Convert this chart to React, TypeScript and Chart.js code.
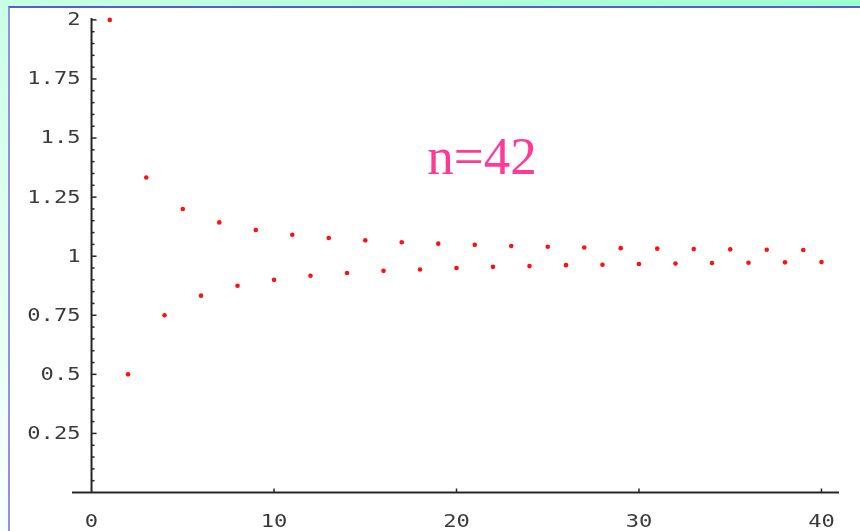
import React, { useEffect, useRef } from "react";
import { Chart, registerables } from "chart.js";

Chart.register(...registerables);

// ---- data ----
const xValues = [
  1, 2, 3, 4, 5, 6, 7, 8, 9, 10, 11, 12, 13, 14, 15, 16, 17, 18, 19, 20,
  21, 22, 23, 24, 25, 26, 27, 28, 29, 30, 31, 32, 33, 34, 35, 36, 37, 38, 39, 40,
];
const yValues = [
  2.0, 0.5, 1.333, 0.75, 1.2, 0.833, 1.143, 0.875, 1.111, 0.9,
  1.091, 0.917, 1.077, 0.929, 1.067, 0.938, 1.059, 0.944, 1.053, 0.95,
  1.048, 0.955, 1.043, 0.958, 1.04, 0.962, 1.037, 0.964, 1.034, 0.967,
  1.032, 0.969, 1.03, 0.971, 1.029, 0.972, 1.027, 0.974, 1.026, 0.975,
];
const xTickLabels = ["0", "10", "20", "30", "40"];
const yTickLabels = ["0.25", "0.5", "0.75", "1", "1.25", "1.5", "1.75", "2"];
const yMinorStep = 0.05;
const annotationText = "n=42";

const axisPlugin = {
  id: "mmaAxes",
  afterDraw(chart: any) {
    const ctx = chart.ctx as CanvasRenderingContext2D;
    const xs = chart.scales.x;
    const ys = chart.scales.y;
    const area = chart.chartArea;
    const x0 = xs.getPixelForValue(0);
    const y0 = ys.getPixelForValue(0);
    ctx.save();
    ctx.strokeStyle = "#262626";
    ctx.lineWidth = 2;
    // x axis
    ctx.beginPath();
    ctx.moveTo(area.left, y0);
    ctx.lineTo(area.right, y0);
    ctx.stroke();
    // y axis
    ctx.beginPath();
    ctx.moveTo(x0, y0);
    ctx.lineTo(x0, area.top);
    ctx.stroke();

    // y ticks (minor + major)
    ctx.lineWidth = 1.5;
    const nMinor = Math.round(ys.max / yMinorStep);
    for (let i = 1; i <= nMinor; i++) {
      const v = i * yMinorStep;
      const py = ys.getPixelForValue(v);
      const major = i % 5 === 0;
      ctx.beginPath();
      ctx.moveTo(x0, py);
      ctx.lineTo(x0 + (major ? 5 : 3), py);
      ctx.stroke();
    }
    // x ticks
    xTickLabels.forEach((l) => {
      const v = parseFloat(l);
      if (v === 0) return;
      const px = xs.getPixelForValue(v);
      ctx.beginPath();
      ctx.moveTo(px, y0);
      ctx.lineTo(px, y0 - 4);
      ctx.stroke();
    });

    // labels
    ctx.fillStyle = "#3a3a3a";
    ctx.font = "17px 'DejaVu Sans Mono'";
    ctx.textBaseline = "middle";
    const sx = 1.3;
    yTickLabels.forEach((l) => {
      const v = parseFloat(l);
      const py = ys.getPixelForValue(v);
      const w = ctx.measureText(l).width * sx;
      ctx.save();
      ctx.translate(x0 - 11 - w, py + 1);
      ctx.scale(sx, 1);
      ctx.textAlign = "left";
      ctx.fillText(l, 0, 0);
      ctx.restore();
    });
    xTickLabels.forEach((l) => {
      const v = parseFloat(l);
      const px = xs.getPixelForValue(v);
      ctx.save();
      ctx.translate(px, y0 + 30);
      ctx.scale(sx, 1);
      ctx.textAlign = "center";
      ctx.fillText(l, 0, 0);
      ctx.restore();
    });

    // annotation
    ctx.fillStyle = "#ff3a96";
    ctx.font = "53px 'Liberation Serif'";
    ctx.textAlign = "left";
    ctx.textBaseline = "alphabetic";
    ctx.fillText(annotationText, xs.getPixelForValue(18.4), ys.getPixelForValue(1.348));
    ctx.restore();
  },
};

export default function App() {
  const ref = useRef<HTMLCanvasElement | null>(null);
  useEffect(() => {
    if (!ref.current) return;
    const chart = new Chart(ref.current, {
      type: "scatter",
      data: {
        datasets: [
          {
            data: xValues.map((x, i) => ({ x, y: yValues[i] })),
            backgroundColor: "#ff1010",
            borderWidth: 0,
            pointRadius: 2.3,
            pointHoverRadius: 2.3,
          },
        ],
      },
      options: {
        animation: false,
        responsive: false,
        maintainAspectRatio: false,
        events: [],
        layout: { padding: { left: 72, right: 21, top: 18, bottom: 38.5 } },
        plugins: { legend: { display: false }, tooltip: { enabled: false } },
        scales: {
          x: { type: "linear", min: -1.07, max: 40.96, display: false },
          y: { type: "linear", min: 0, max: 2.008, display: false },
        },
        clip: false as any,
      },
      plugins: [axisPlugin],
    });
    return () => chart.destroy();
  }, []);

  return (
    <div
      style={{
        position: "fixed",
        left: 0,
        top: 0,
        width: 860,
        height: 531,
        background: "linear-gradient(to top right, #fbfffd 0%, #c8ffe4 50%, #9cffce 100%)",
        overflow: "hidden",
      }}
    >
      <div
        style={{
          position: "absolute",
          left: 8,
          top: 6,
          right: 0,
          bottom: 0,
          background: "#ffffff",
          borderTop: "2px solid #5a5ad6",
          borderLeft: "2px solid #9090e8",
        }}
      />
      <canvas
        ref={ref}
        width={860}
        height={531}
        style={{ position: "absolute", left: 0, top: 0, width: 860, height: 531 }}
      />
    </div>
  );
}
